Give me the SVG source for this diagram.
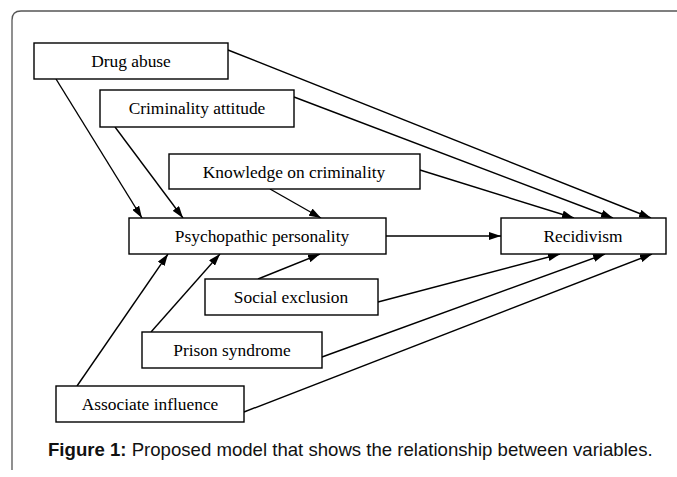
<svg xmlns="http://www.w3.org/2000/svg" width="677" height="477" viewBox="0 0 677 477">
<style>
.box{fill:#fff;stroke:#000;stroke-width:1.4}
.lbl{font-family:"Liberation Serif","Times New Roman",serif;font-size:17.4px;fill:#000;text-anchor:middle}
.con line{stroke:#000;stroke-width:1.4;marker-end:url(#ah)}
.cap{font-family:"Liberation Sans",Arial,sans-serif;font-size:18.6px;fill:#111}
</style>
<defs>
<marker id="ah" viewBox="0 0 12 8" refX="12" refY="4" markerWidth="12" markerHeight="8" markerUnits="userSpaceOnUse" orient="auto">
<path d="M0,0 L12,4 L0,8 Z" fill="#000"/>
</marker>
</defs>
<rect width="677" height="477" fill="#fff"/>
<path d="M12,470 L12,20 Q12,11 21,11 L677,11" fill="none" stroke="#555" stroke-width="1.3"/>
<g class="con">
<line x1="56" y1="79" x2="142" y2="218"/>
<line x1="115" y1="127" x2="183" y2="218"/>
<line x1="270" y1="189" x2="321" y2="218"/>
<line x1="228" y1="50" x2="651" y2="218"/>
<line x1="294" y1="97" x2="613" y2="218"/>
<line x1="420" y1="170" x2="574" y2="218"/>
<line x1="386" y1="236" x2="501" y2="236"/>
<line x1="77" y1="386" x2="168" y2="254"/>
<line x1="151" y1="332" x2="220" y2="254"/>
<line x1="258" y1="279" x2="320" y2="254"/>
<line x1="378" y1="302" x2="560" y2="254"/>
<line x1="322" y1="357" x2="605" y2="254"/>
<line x1="244" y1="412" x2="652" y2="254"/>
</g>
<g id="drug"><rect class="box" x="34" y="43" width="194" height="36"/><text class="lbl" x="131" y="67">Drug abuse</text></g>
<g id="attitude"><rect class="box" x="100" y="90" width="194" height="37"/><text class="lbl" x="197" y="114">Criminality attitude</text></g>
<g id="knowledge"><rect class="box" x="169" y="154" width="251" height="35"/><text class="lbl" x="294" y="178">Knowledge on criminality</text></g>
<g id="psycho"><rect class="box" x="129" y="218" width="257" height="36"/><text class="lbl" x="262" y="242" font-size="18px">Psychopathic personality</text></g>
<g id="recid"><rect class="box" x="501" y="218" width="165" height="36"/><text class="lbl" x="583" y="242">Recidivism</text></g>
<g id="social"><rect class="box" x="205" y="279" width="173" height="36"/><text class="lbl" x="291" y="303">Social exclusion</text></g>
<g id="prison"><rect class="box" x="142" y="332" width="180" height="36"/><text class="lbl" x="232" y="356">Prison syndrome</text></g>
<g id="associate"><rect class="box" x="56" y="386" width="188" height="36"/><text class="lbl" x="150" y="410">Associate influence</text></g>
<text class="cap" x="48" y="455.5"><tspan font-weight="bold">Figure 1:</tspan> Proposed model that shows the relationship between variables.</text>
</svg>
